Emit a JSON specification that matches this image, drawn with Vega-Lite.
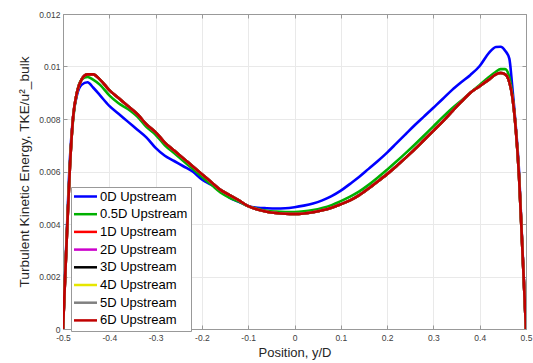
{
  "$schema": "https://vega.github.io/schema/vega-lite/v6.json",
  "width": 463,
  "height": 315,
  "autosize": "none",
  "padding": {"left": 63, "top": 14, "right": 7, "bottom": 34},
  "background": "white",
  "config": {
    "view": {"stroke": null},
    "font": "Liberation Sans",
    "axis": {
      "labelFont": "Liberation Sans",
      "labelFontSize": 8.5,
      "labelColor": "#404040",
      "titleFont": "Liberation Sans",
      "titleFontSize": 13,
      "titleFontWeight": "normal",
      "titleColor": "#262626",
      "domainColor": "#999999",
      "tickColor": "#999999",
      "gridColor": "#e9e9e9",
      "tickSize": -4
    },
    "legend": {
      "labelFont": "Liberation Sans",
      "labelFontSize": 13,
      "labelColor": "#000000"
    }
  },
  "data": {
    "values": [
      {"x": -0.5, "s0": 0, "s05": 0, "s1": 0, "s2": 0, "s3": 0, "s4": 0, "s5": 0, "s6": 0},
      {"x": -0.492, "s0": 0.0036, "s05": 0.0035, "s1": 0.0034, "s2": 0.0034, "s3": 0.0034, "s4": 0.0034, "s5": 0.0034, "s6": 0.0034},
      {"x": -0.485, "s0": 0.0065, "s05": 0.0063, "s1": 0.0062, "s2": 0.0062, "s3": 0.0062, "s4": 0.0062, "s5": 0.0062, "s6": 0.0062},
      {"x": -0.478, "s0": 0.0081, "s05": 0.0080, "s1": 0.0081, "s2": 0.0081, "s3": 0.0081, "s4": 0.0081, "s5": 0.0081, "s6": 0.0081},
      {"x": -0.47, "s0": 0.0089, "s05": 0.0090, "s1": 0.0090, "s2": 0.0090, "s3": 0.0090, "s4": 0.0090, "s5": 0.0090, "s6": 0.0090},
      {"x": -0.46, "s0": 0.0093, "s05": 0.0095, "s1": 0.0095, "s2": 0.0095, "s3": 0.0095, "s4": 0.0095, "s5": 0.0095, "s6": 0.0095},
      {"x": -0.447, "s0": 0.0094, "s05": 0.0096, "s1": 0.0097, "s2": 0.0097, "s3": 0.0097, "s4": 0.0097, "s5": 0.0097, "s6": 0.0097},
      {"x": -0.435, "s0": 0.0092, "s05": 0.0095, "s1": 0.0097, "s2": 0.0097, "s3": 0.0097, "s4": 0.0097, "s5": 0.0097, "s6": 0.0097},
      {"x": -0.42, "s0": 0.0089, "s05": 0.0093, "s1": 0.0095, "s2": 0.0095, "s3": 0.0095, "s4": 0.0095, "s5": 0.0095, "s6": 0.0095},
      {"x": -0.4, "s0": 0.0085, "s05": 0.0089, "s1": 0.0091, "s2": 0.0091, "s3": 0.0091, "s4": 0.0091, "s5": 0.0091, "s6": 0.0091},
      {"x": -0.38, "s0": 0.0082, "s05": 0.0086, "s1": 0.0088, "s2": 0.0088, "s3": 0.0088, "s4": 0.0088, "s5": 0.0088, "s6": 0.0088},
      {"x": -0.36, "s0": 0.0079, "s05": 0.00838, "s1": 0.0085, "s2": 0.0085, "s3": 0.0085, "s4": 0.0085, "s5": 0.0085, "s6": 0.0085},
      {"x": -0.34, "s0": 0.0076, "s05": 0.0081, "s1": 0.0082, "s2": 0.0082, "s3": 0.0082, "s4": 0.0082, "s5": 0.0082, "s6": 0.0082},
      {"x": -0.32, "s0": 0.0073, "s05": 0.0077, "s1": 0.0078, "s2": 0.0078, "s3": 0.0078, "s4": 0.0078, "s5": 0.0078, "s6": 0.0078},
      {"x": -0.3, "s0": 0.0069, "s05": 0.0074, "s1": 0.0075, "s2": 0.0075, "s3": 0.0075, "s4": 0.0075, "s5": 0.0075, "s6": 0.0075},
      {"x": -0.28, "s0": 0.0066, "s05": 0.0070, "s1": 0.0071, "s2": 0.0071, "s3": 0.0071, "s4": 0.0071, "s5": 0.0071, "s6": 0.0071},
      {"x": -0.26, "s0": 0.0064, "s05": 0.0067, "s1": 0.0068, "s2": 0.0068, "s3": 0.0068, "s4": 0.0068, "s5": 0.0068, "s6": 0.0068},
      {"x": -0.24, "s0": 0.0062, "s05": 0.0064, "s1": 0.0065, "s2": 0.0065, "s3": 0.0065, "s4": 0.0065, "s5": 0.0065, "s6": 0.0065},
      {"x": -0.22, "s0": 0.0060, "s05": 0.0061, "s1": 0.0062, "s2": 0.0062, "s3": 0.0062, "s4": 0.0062, "s5": 0.0062, "s6": 0.0062},
      {"x": -0.2, "s0": 0.0057, "s05": 0.0058, "s1": 0.0059, "s2": 0.0059, "s3": 0.0059, "s4": 0.0059, "s5": 0.0059, "s6": 0.0059},
      {"x": -0.18, "s0": 0.0055, "s05": 0.0055, "s1": 0.0056, "s2": 0.0056, "s3": 0.0056, "s4": 0.0056, "s5": 0.0056, "s6": 0.0056},
      {"x": -0.16, "s0": 0.0053, "s05": 0.0052, "s1": 0.0053, "s2": 0.0053, "s3": 0.0053, "s4": 0.0053, "s5": 0.0053, "s6": 0.0053},
      {"x": -0.14, "s0": 0.0050, "s05": 0.0050, "s1": 0.0051, "s2": 0.0051, "s3": 0.0051, "s4": 0.0051, "s5": 0.0051, "s6": 0.0051},
      {"x": -0.12, "s0": 0.00485, "s05": 0.00485, "s1": 0.0049, "s2": 0.0049, "s3": 0.0049, "s4": 0.0049, "s5": 0.0049, "s6": 0.0049},
      {"x": -0.1, "s0": 0.00469, "s05": 0.00468, "s1": 0.00468, "s2": 0.00468, "s3": 0.00468, "s4": 0.00468, "s5": 0.00468, "s6": 0.00468},
      {"x": -0.08, "s0": 0.00462, "s05": 0.00458, "s1": 0.00455, "s2": 0.00455, "s3": 0.00455, "s4": 0.00455, "s5": 0.00455, "s6": 0.00455},
      {"x": -0.06, "s0": 0.0046, "s05": 0.0045, "s1": 0.00447, "s2": 0.00447, "s3": 0.00447, "s4": 0.00447, "s5": 0.00447, "s6": 0.00447},
      {"x": -0.04, "s0": 0.00459, "s05": 0.00447, "s1": 0.00442, "s2": 0.00442, "s3": 0.00442, "s4": 0.00442, "s5": 0.00442, "s6": 0.00442},
      {"x": -0.02, "s0": 0.0046, "s05": 0.00446, "s1": 0.00439, "s2": 0.00439, "s3": 0.00439, "s4": 0.00439, "s5": 0.00439, "s6": 0.00439},
      {"x": 0, "s0": 0.00464, "s05": 0.00446, "s1": 0.00438, "s2": 0.00438, "s3": 0.00438, "s4": 0.00438, "s5": 0.00438, "s6": 0.00438},
      {"x": 0.02, "s0": 0.0047, "s05": 0.00448, "s1": 0.0044, "s2": 0.0044, "s3": 0.0044, "s4": 0.0044, "s5": 0.0044, "s6": 0.0044},
      {"x": 0.04, "s0": 0.00478, "s05": 0.00453, "s1": 0.00445, "s2": 0.00445, "s3": 0.00445, "s4": 0.00445, "s5": 0.00445, "s6": 0.00445},
      {"x": 0.06, "s0": 0.0049, "s05": 0.00461, "s1": 0.00452, "s2": 0.00452, "s3": 0.00452, "s4": 0.00452, "s5": 0.00452, "s6": 0.00452},
      {"x": 0.08, "s0": 0.00506, "s05": 0.00472, "s1": 0.00462, "s2": 0.00462, "s3": 0.00462, "s4": 0.00462, "s5": 0.00462, "s6": 0.00462},
      {"x": 0.1, "s0": 0.00527, "s05": 0.00487, "s1": 0.00475, "s2": 0.00475, "s3": 0.00475, "s4": 0.00475, "s5": 0.00475, "s6": 0.00475},
      {"x": 0.12, "s0": 0.00553, "s05": 0.00504, "s1": 0.0049, "s2": 0.0049, "s3": 0.0049, "s4": 0.0049, "s5": 0.0049, "s6": 0.0049},
      {"x": 0.14, "s0": 0.0058, "s05": 0.00524, "s1": 0.0051, "s2": 0.0051, "s3": 0.0051, "s4": 0.0051, "s5": 0.0051, "s6": 0.0051},
      {"x": 0.16, "s0": 0.0061, "s05": 0.00549, "s1": 0.00535, "s2": 0.00535, "s3": 0.00535, "s4": 0.00535, "s5": 0.00535, "s6": 0.00535},
      {"x": 0.18, "s0": 0.0064, "s05": 0.00577, "s1": 0.00562, "s2": 0.00562, "s3": 0.00562, "s4": 0.00562, "s5": 0.00562, "s6": 0.00562},
      {"x": 0.2, "s0": 0.00672, "s05": 0.00607, "s1": 0.0059, "s2": 0.0059, "s3": 0.0059, "s4": 0.0059, "s5": 0.0059, "s6": 0.0059},
      {"x": 0.22, "s0": 0.00707, "s05": 0.00638, "s1": 0.0062, "s2": 0.0062, "s3": 0.0062, "s4": 0.0062, "s5": 0.0062, "s6": 0.0062},
      {"x": 0.24, "s0": 0.00742, "s05": 0.0067, "s1": 0.00652, "s2": 0.00652, "s3": 0.00652, "s4": 0.00652, "s5": 0.00652, "s6": 0.00652},
      {"x": 0.26, "s0": 0.00777, "s05": 0.00703, "s1": 0.00685, "s2": 0.00685, "s3": 0.00685, "s4": 0.00685, "s5": 0.00685, "s6": 0.00685},
      {"x": 0.28, "s0": 0.0081, "s05": 0.00737, "s1": 0.0072, "s2": 0.0072, "s3": 0.0072, "s4": 0.0072, "s5": 0.0072, "s6": 0.0072},
      {"x": 0.3, "s0": 0.00843, "s05": 0.00772, "s1": 0.00755, "s2": 0.00755, "s3": 0.00755, "s4": 0.00755, "s5": 0.00755, "s6": 0.00755},
      {"x": 0.32, "s0": 0.00876, "s05": 0.00807, "s1": 0.0079, "s2": 0.0079, "s3": 0.0079, "s4": 0.0079, "s5": 0.0079, "s6": 0.0079},
      {"x": 0.34, "s0": 0.0091, "s05": 0.0084, "s1": 0.00828, "s2": 0.00828, "s3": 0.00828, "s4": 0.00828, "s5": 0.00828, "s6": 0.00828},
      {"x": 0.36, "s0": 0.0094, "s05": 0.0087, "s1": 0.00865, "s2": 0.00865, "s3": 0.00865, "s4": 0.00865, "s5": 0.00865, "s6": 0.00865},
      {"x": 0.38, "s0": 0.00968, "s05": 0.009, "s1": 0.009, "s2": 0.009, "s3": 0.009, "s4": 0.009, "s5": 0.009, "s6": 0.009},
      {"x": 0.4, "s0": 0.01002, "s05": 0.0093, "s1": 0.00925, "s2": 0.00925, "s3": 0.00925, "s4": 0.00925, "s5": 0.00925, "s6": 0.00925},
      {"x": 0.42, "s0": 0.01052, "s05": 0.0096, "s1": 0.0095, "s2": 0.0095, "s3": 0.0095, "s4": 0.0095, "s5": 0.0095, "s6": 0.0095},
      {"x": 0.435, "s0": 0.01074, "s05": 0.0098, "s1": 0.0097, "s2": 0.0097, "s3": 0.0097, "s4": 0.0097, "s5": 0.0097, "s6": 0.0097},
      {"x": 0.445, "s0": 0.01075, "s05": 0.0099, "s1": 0.00975, "s2": 0.00975, "s3": 0.00975, "s4": 0.00975, "s5": 0.00975, "s6": 0.00975},
      {"x": 0.455, "s0": 0.0106, "s05": 0.0099, "s1": 0.0097, "s2": 0.0097, "s3": 0.0097, "s4": 0.0097, "s5": 0.0097, "s6": 0.0097},
      {"x": 0.464, "s0": 0.0103, "s05": 0.0096, "s1": 0.0094, "s2": 0.0094, "s3": 0.0094, "s4": 0.0094, "s5": 0.0094, "s6": 0.0094},
      {"x": 0.47, "s0": 0.0093, "s05": 0.0090, "s1": 0.0089, "s2": 0.0089, "s3": 0.0089, "s4": 0.0089, "s5": 0.0089, "s6": 0.0089},
      {"x": 0.478, "s0": 0.0077, "s05": 0.0076, "s1": 0.0076, "s2": 0.0076, "s3": 0.0076, "s4": 0.0076, "s5": 0.0076, "s6": 0.0076},
      {"x": 0.485, "s0": 0.0060, "s05": 0.0058, "s1": 0.0058, "s2": 0.0058, "s3": 0.0058, "s4": 0.0058, "s5": 0.0058, "s6": 0.0058},
      {"x": 0.49, "s0": 0.0040, "s05": 0.0039, "s1": 0.0039, "s2": 0.0039, "s3": 0.0039, "s4": 0.0039, "s5": 0.0039, "s6": 0.0039},
      {"x": 0.5, "s0": 0, "s05": 0, "s1": 0, "s2": 0, "s3": 0, "s4": 0, "s5": 0, "s6": 0}
    ]
  },
  "transform": [
    {"fold": ["s0", "s05", "s1", "s2", "s3", "s4", "s5", "s6"], "as": ["series", "tke"]}
  ],
  "layer": [
    {
      "mark": {"type": "line", "strokeWidth": 2.6, "interpolate": "monotone", "clip": true},
      "encoding": {
        "x": {
          "field": "x", "type": "quantitative",
          "scale": {"domain": [-0.5, 0.5], "nice": false, "zero": false},
          "axis": {
            "orient": "bottom", "title": "Position, y/D", "grid": true,
            "values": [-0.5, -0.4, -0.3, -0.2, -0.1, 0, 0.1, 0.2, 0.3, 0.4, 0.5],
            "labelExpr": "toString(round(datum.value*10)/10)",
            "labelPadding": 8, "titlePadding": 5, "labelFlush": false
          }
        },
        "y": {
          "field": "tke", "type": "quantitative",
          "scale": {"domain": [0, 0.012], "nice": false},
          "axis": {
            "orient": "left", "title": "Turbulent Kinetic Energy, TKE/u²_bulk", "grid": true,
            "values": [0, 0.002, 0.004, 0.006, 0.008, 0.01, 0.012],
            "labelExpr": "toString(round(datum.value*1000)/1000)",
            "labelPadding": 7, "titlePadding": 7, "titleFontSize": 13.7
          }
        },
        "color": {
          "field": "series", "type": "nominal",
          "scale": {
            "domain": ["s0", "s05", "s1", "s2", "s3", "s4", "s5", "s6"],
            "range": ["#0000ff", "#00b000", "#ff0000", "#cc00cc", "#000000", "#e6e600", "#808080", "#c00000"]
          },
          "legend": {
            "orient": "none", "legendX": 8, "legendY": 173, "title": null,
            "fillColor": "white", "strokeColor": "#999999", "padding": 3,
            "symbolType": "M-2.3,0H2.3", "symbolStrokeWidth": 2.5, "symbolSize": 100,
            "symbolOffset": 5, "labelOffset": 8, "rowPadding": 3.7,
            "labelExpr": "datum.label == 's0' ? '0D Upstream' : datum.label == 's05' ? '0.5D Upstream' : replace(datum.label, 's', '') + 'D Upstream'"
          }
        }
      }
    },
    {
      "mark": {"type": "point", "opacity": 0},
      "encoding": {
        "x": {
          "field": "x", "type": "quantitative",
          "scale": {"domain": [-0.5, 0.5], "nice": false, "zero": false},
          "axis": {"orient": "top", "title": null, "labels": false, "grid": false,
                   "values": [-0.5, -0.4, -0.3, -0.2, -0.1, 0, 0.1, 0.2, 0.3, 0.4, 0.5]}
        },
        "y": {
          "field": "tke", "type": "quantitative",
          "scale": {"domain": [0, 0.012], "nice": false},
          "axis": {"orient": "right", "title": null, "labels": false, "grid": false,
                   "values": [0, 0.002, 0.004, 0.006, 0.008, 0.01, 0.012]}
        }
      }
    }
  ],
  "resolve": {"axis": {"x": "independent", "y": "independent"}}
}
